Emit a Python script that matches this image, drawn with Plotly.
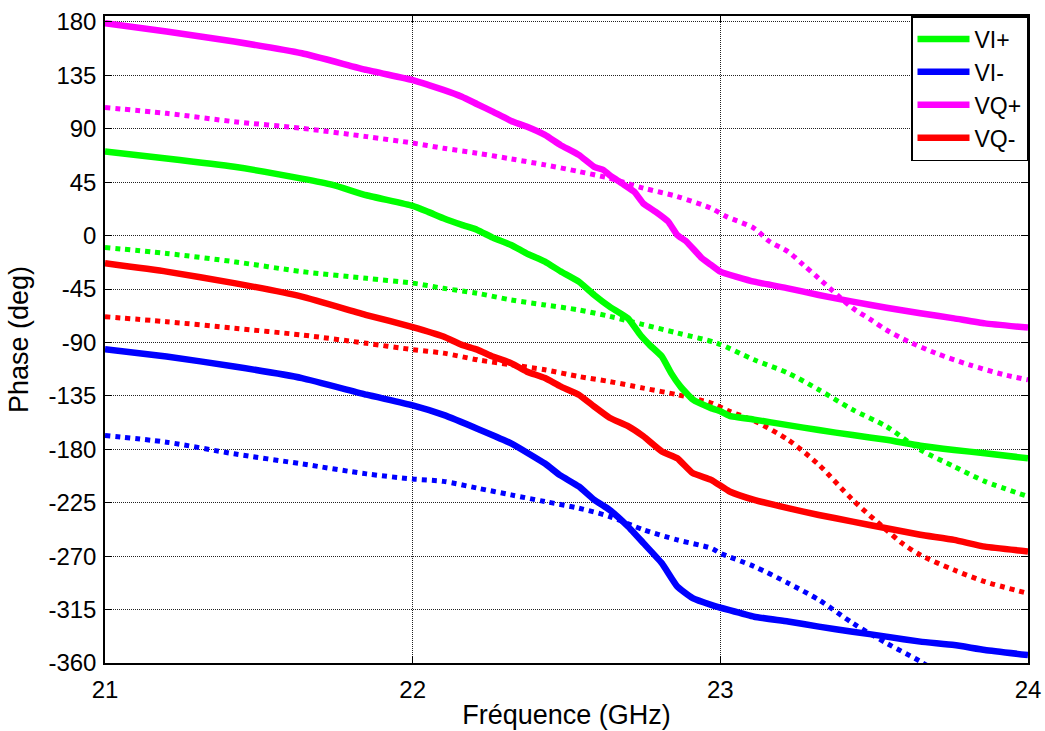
import plotly.graph_objects as go

# --- data (frequency in GHz, phase in degrees) ---
f_viplus = [21.00, 21.20, 21.42, 21.64, 21.74, 21.85, 22.00, 22.05, 22.10, 22.16, 22.21, 22.26,
            22.32, 22.37, 22.43, 22.48, 22.54, 22.59, 22.64, 22.70, 22.74, 22.77, 22.81, 22.84,
            22.87, 22.91, 22.97, 23.00, 23.03, 23.11, 23.22, 23.32, 23.43, 23.54, 23.65, 23.76,
            23.86, 24.00]
p_viplus = [70.8, 65, 58, 48, 42.7, 34, 25, 20, 14.6, 9, 4.8, -1.7,
            -7.9, -14.9, -21.9, -30, -38.8, -50, -59.8, -69.7, -83.7, -92, -101.8, -115.8,
            -127, -138, -145.3, -148, -151.8, -155, -159.6, -163.8, -168, -172, -177, -180.6,
            -183.3, -187.6]

f_viplus_ref = [21.00, 21.20, 21.42, 21.64, 21.85, 22.00, 22.10, 22.21, 22.32, 22.43, 22.54,
                22.64, 22.75, 22.86, 22.99, 23.11, 23.22, 23.32, 23.43, 23.54, 23.65, 23.76,
                23.86, 24.00]
p_viplus_ref = [-10, -15, -22, -30.3, -36, -40, -44.4, -48.6, -54.2, -58.4, -62.6,
                -68, -75, -82, -90.7, -104.6, -115.8, -129.8, -146.6, -160.8, -180.4, -194.5,
                -207, -219.7]

f_viminus = [21.00, 21.20, 21.42, 21.64, 21.85, 22.00, 22.10, 22.21, 22.32, 22.43, 22.48,
             22.54, 22.59, 22.64, 22.70, 22.75, 22.81, 22.86, 22.91, 22.97, 23.03, 23.11,
             23.22, 23.32, 23.43, 23.54, 23.65, 23.76, 23.86, 24.00]
p_viminus = [-95.6, -101.8, -110.2, -120, -134, -143, -151, -162.6, -175, -192, -202,
             -211.3, -222.6, -231, -245, -259, -276, -295.6, -305.4, -311, -315.5, -321,
             -325, -329.4, -333.6, -337.8, -342, -344.9, -349, -353.3]

f_viminus_ref = [21.00, 21.20, 21.42, 21.64, 21.85, 22.00, 22.10, 22.21, 22.32, 22.43, 22.54,
                 22.64, 22.75, 22.86, 22.97, 23.00, 23.11, 23.22, 23.32, 23.43, 23.54, 23.65,
                 23.76]
p_viminus_ref = [-168.4, -174, -183.8, -192.3, -200.7, -205, -207, -212.7, -218.4, -224, -229.6,
                 -236.6, -247.8, -256.3, -263.3, -267.5, -278.7, -292.7, -306.8, -326.4, -343.3, -358.7,
                 -377]

f_vqplus = [21.00, 21.20, 21.42, 21.64, 21.85, 22.00, 22.05, 22.10, 22.16, 22.21, 22.26, 22.32,
            22.37, 22.43, 22.48, 22.54, 22.59, 22.62, 22.64, 22.68, 22.72, 22.75, 22.79, 22.83,
            22.86, 22.89, 22.94, 22.97, 23.00, 23.11, 23.22, 23.32, 23.43, 23.54, 23.65, 23.76,
            23.86, 24.00]
p_vqplus = [179, 172, 163.5, 153.6, 139.6, 131, 127, 122.8, 117, 110.7, 104.5, 96.6,
            91.9, 84.8, 76.4, 68, 58, 55.3, 51, 44, 37, 27, 20, 12,
            0.6, -5, -19, -24.7, -30.3, -38.8, -44.4, -50, -55.6, -60.7, -65.4, -69.7,
            -73.9, -77.5]

f_vqplus_ref = [21.00, 21.20, 21.42, 21.64, 21.85, 22.00, 22.10, 22.21, 22.32, 22.43, 22.54,
                22.64, 22.75, 22.86, 22.97, 23.02, 23.11, 23.16, 23.22, 23.27, 23.32, 23.38,
                23.43, 23.49, 23.54, 23.61, 23.70, 23.81, 23.92, 24.00]
p_vqplus_ref = [107.9, 103, 96, 90.4, 83.4, 78, 73.6, 69.4, 64.6, 59.6, 54,
                48.3, 40, 32.9, 23, 16, 6.2, -5, -13.5, -24.7, -36, -50,
                -61, -71, -79.5, -89, -99, -108.9, -117, -121.5]

f_vqminus = [21.00, 21.20, 21.42, 21.64, 21.85, 22.00, 22.10, 22.16, 22.21, 22.26, 22.32, 22.37,
             22.43, 22.48, 22.54, 22.59, 22.64, 22.70, 22.75, 22.81, 22.86, 22.91, 22.97, 23.03,
             23.11, 23.22, 23.32, 23.43, 23.54, 23.65, 23.76, 23.86, 24.00]
p_vqminus = [-23.3, -30.3, -40, -51.4, -66.9, -77, -85, -92, -96, -101.8, -107.4, -114.4,
             -120, -127, -134, -144, -153.4, -160.4, -169, -181.8, -187.5, -200, -205.7, -215.5,
             -222.6, -229.6, -235.3, -240.9, -246.5, -252, -256.3, -262, -266]

f_vqminus_ref = [21.00, 21.20, 21.42, 21.64, 21.85, 22.00, 22.10, 22.21, 22.32, 22.43, 22.54,
                 22.64, 22.75, 22.86, 22.97, 23.03, 23.11, 23.22, 23.32, 23.43, 23.54, 23.59,
                 23.65, 23.76, 23.86, 24.00]
p_vqminus_ref = [-68.3, -72.5, -78, -83.7, -90.7, -96, -99, -104.6, -108.8, -113, -118.7,
                 -122.9, -128.5, -134, -141, -148, -156, -172, -193, -222.6, -248, -259,
                 -269, -281.7, -291.5, -301.3]

# axis ticks (plain hyphen minus, as in the original)
x_ticks = [21, 22, 23, 24]
y_ticks = list(range(-360, 181, 45))
y_ticktext = [str(v) for v in y_ticks]

GREEN = "#00ff00"
BLUE = "#0000ff"
MAGENTA = "#ff00ff"
RED = "#ff0000"
FONT = "Liberation Sans, Arial"

fig = go.Figure()

series = [
    ("VI+", f_viplus, p_viplus, f_viplus_ref, p_viplus_ref, GREEN),
    ("VI-", f_viminus, p_viminus, f_viminus_ref, p_viminus_ref, BLUE),
    ("VQ+", f_vqplus, p_vqplus, f_vqplus_ref, p_vqplus_ref, MAGENTA),
    ("VQ-", f_vqminus, p_vqminus, f_vqminus_ref, p_vqminus_ref, RED),
]

# dotted curves first (no legend entry)
for name, fs, ps, fr, pr, col in series:
    fig.add_trace(go.Scatter(x=fr, y=pr, mode="lines", showlegend=False,
                             line=dict(color=col, width=5, dash="dot",
                                       shape="spline", smoothing=0.8)))

for name, fs, ps, fr, pr, col in series:
    fig.add_trace(go.Scatter(x=fs, y=ps, mode="lines", name=name,
                             line=dict(color=col, width=6.5,
                                       shape="spline", smoothing=0.4)))

axis_common = dict(
    showline=True, linecolor="black", linewidth=1.5, mirror="ticks",
    ticks="inside", ticklen=7, tickcolor="black",
    showgrid=True, gridcolor="#222", gridwidth=1, griddash="1px,1px",
    zeroline=False, automargin=False,
    tickfont=dict(family=FONT, size=24, color="black"),
)

fig.update_xaxes(range=[21, 24], tickvals=x_ticks, ticklabelstandoff=4,
                 title=dict(text="Fréquence (GHz)", standoff=4,
                            font=dict(family=FONT, size=27, color="black")),
                 **axis_common)
fig.update_yaxes(range=[-360, 185], tickvals=y_ticks, ticktext=y_ticktext,
                 ticklabelstandoff=2,
                 title=dict(text="Phase (deg)", standoff=12,
                            font=dict(family=FONT, size=27, color="black")),
                 **axis_common)

fig.update_layout(
    width=1045, height=731,
    margin=dict(l=105, r=17, t=16, b=68),
    plot_bgcolor="white", paper_bgcolor="white",
    legend=dict(x=1, y=1, xanchor="right", yanchor="top",
                bgcolor="white", bordercolor="black", borderwidth=1.5,
                font=dict(family=FONT, size=23, color="black"),
                itemwidth=52, tracegroupgap=0),
)

# remove the default page margin so the figure sits at the window's corner
fig.write_html("out.html", config={"displayModeBar": False},
               post_script="document.body.style.margin='0';document.body.style.padding='0';")
